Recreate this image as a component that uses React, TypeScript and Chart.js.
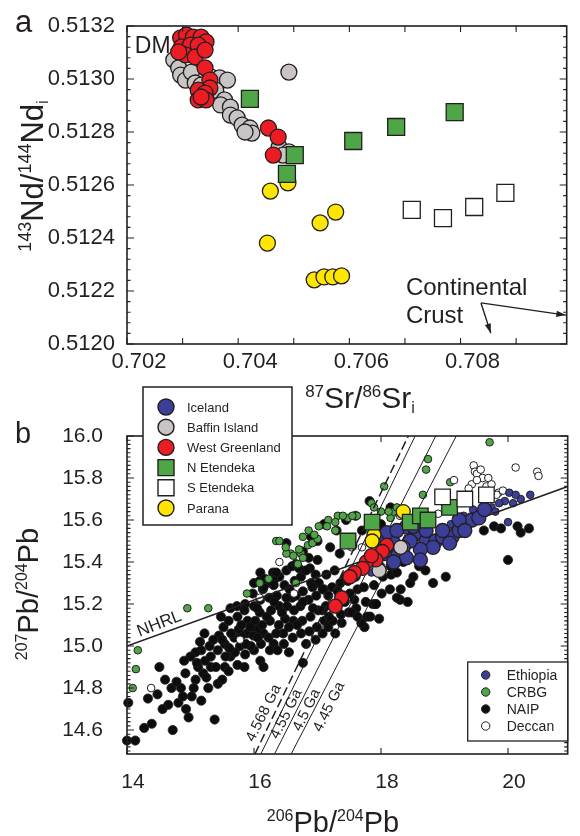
import React, { useEffect, useRef } from 'react';
import { Chart, registerables } from 'chart.js';
Chart.register(...registerables);

const FONT = '"Liberation Sans", Arial, Helvetica, sans-serif';
const INK = '#231f20';
const C_RED = '#ec1c24';
const C_GREY = '#c9c5c5';
const C_GREEN = '#4ea646';
const C_YELLOW = '#ffe600';
const C_BLUE = '#3c3f9a';
const C_BLACK = '#0d0d0d';
const C_WHITE = '#ffffff';

Chart.defaults.font.family = FONT;

// ---------- Panel a : 87Sr/86Sr vs 143Nd/144Nd ----------
const srTickLabels = [0.702, 0.704, 0.706, 0.708];
const ndTickLabels = [0.512, 0.5122, 0.5124, 0.5126, 0.5128, 0.513, 0.5132];

const baffinSrNd = [
  [0.702842, 0.513072], [0.70293, 0.513042], [0.702965, 0.513015], [0.703053, 0.512996],
  [0.703158, 0.513026], [0.703228, 0.512985], [0.703333, 0.512977], [0.703509, 0.513008],
  [0.703667, 0.513004], [0.703807, 0.512996], [0.703596, 0.512958], [0.703754, 0.512921],
  [0.703684, 0.512902], [0.70386, 0.512894], [0.70386, 0.512864], [0.703982, 0.512853],
  [0.70407, 0.512826], [0.704211, 0.512815], [0.704246, 0.512796], [0.704123, 0.5128],
  [0.704912, 0.513026], [0.704737, 0.512743], [0.704912, 0.512725], [0.704807, 0.512713],
];
const westGreenlandSrNd = [
  [0.702965, 0.513155], [0.70307, 0.513166], [0.703193, 0.513158], [0.703333, 0.513158],
  [0.703421, 0.51314], [0.702982, 0.513121], [0.70314, 0.513128], [0.703281, 0.513128],
  [0.703053, 0.513091], [0.703228, 0.513083], [0.703404, 0.513109], [0.70293, 0.513102],
  [0.703404, 0.513042], [0.703491, 0.512996], [0.703491, 0.512966], [0.703281, 0.512958],
  [0.703404, 0.512947], [0.703281, 0.512921], [0.703421, 0.512921], [0.703333, 0.512932],
  [0.704544, 0.512815], [0.704719, 0.512781], [0.704632, 0.512713],
];
const paranaSrNd = [
  [0.704579, 0.512577], [0.704895, 0.512608], [0.704526, 0.512381], [0.705474, 0.512457],
  [0.705754, 0.512498], [0.705368, 0.512242], [0.705544, 0.512253], [0.705702, 0.512253],
  [0.70586, 0.512257],
];
const nEtendekaSrNd = [
  [0.704211, 0.512925], [0.705018, 0.512713], [0.704877, 0.512642], [0.70607, 0.512766],
  [0.706842, 0.512819], [0.707895, 0.512875],
];
const sEtendekaSrNd = [
  [0.707123, 0.512506], [0.707684, 0.512475], [0.708246, 0.512517], [0.708807, 0.51257],
];
// annotation anchors (data units)
const dmLabelAt = [0.70214, 0.513098];
const crustLabelAt = [0.707018, 0.512185, 0.512079];
const crustArrowFrom = [0.708368, 0.512155];
const crustArrowTo1 = [0.708544, 0.512041];
const crustArrowTo2 = [0.709895, 0.512109];

// ---------- Panel b : 206Pb/204Pb vs 207Pb/204Pb ----------
const pb6TickLabels = [14, 16, 18, 20];
const pb7TickLabels = [14.6, 14.8, 15.0, 15.2, 15.4, 15.6, 15.8, 16.0];

const nhrlLine = [[14.0, 15.0], [20.94, 15.76]];
const geochron4568 = [[16.015, 14.486], [18.43, 16.0]];
const geochron455 = [[16.108, 14.486], [18.538, 16.0]];
const geochron45 = [[16.323, 14.486], [18.862, 16.0]];
const geochron445 = [[16.585, 14.486], [19.185, 16.0]];
const nhrlLabelAt = [14.51, 15.105];
const gaLabels = ['4.568 Ga', '4.55 Ga', '4.5 Ga', '4.45 Ga'];
const gaLabelAt = [[16.154, 14.681], [16.508, 14.676], [16.831, 14.695], [17.185, 14.71]];

const naipPb = [
  [14.0, 14.55], [14.13, 14.55], [14.02, 14.73], [14.27, 14.61], [14.39, 14.63], [14.33, 14.75],
  [14.48, 14.77], [14.51, 14.9], [14.6, 14.84], [14.7, 14.8], [14.72, 14.6], [14.81, 14.73],
  [14.93, 14.7], [14.97, 14.66], [15.02, 14.76], [15.17, 14.74], [15.38, 14.65], [14.85, 14.8],
  [14.92, 14.87], [14.78, 14.83], [15.08, 14.84], [15.12, 14.9], [15.23, 14.93], [15.17, 14.98],
  [15.32, 14.95], [15.3, 15.0], [15.43, 14.98], [15.43, 14.82], [15.54, 14.9], [15.63, 14.95],
  [15.74, 15.14], [15.69, 15.04], [15.78, 15.0], [15.85, 14.9], [15.89, 15.06], [16.0, 15.19],
  [16.0, 14.98], [16.15, 15.06], [16.09, 15.16], [16.25, 15.12], [16.31, 15.01], [16.4, 15.19],
  [16.46, 15.06], [16.55, 14.97], [16.62, 15.12], [15.08, 14.97], [15.15, 15.02], [15.2, 14.87],
  [15.32, 14.9], [15.54, 15.01], [15.45, 15.05], [15.6, 14.88], [15.7, 14.97], [15.8, 15.05],
  [15.86, 14.96], [15.95, 15.0], [16.05, 15.08], [16.1, 14.93], [16.15, 14.9], [16.25, 14.98],
  [16.35, 15.06], [16.47, 15.01], [16.55, 15.09], [16.77, 14.92], [16.82, 15.01], [16.97, 15.03],
  [17.08, 15.06], [17.17, 15.09], [17.28, 15.06], [17.38, 15.11], [15.0, 14.95], [14.9, 14.93],
  [15.25, 14.85], [15.05, 14.8], [14.65, 14.72], [15.4, 14.9], [15.5, 14.84], [15.55, 14.95],
  [14.88, 14.76], [15.1, 14.92], [15.28, 14.8], [15.36, 15.03], [15.22, 15.06], [14.56, 14.7],
  // dense core of the array
  [15.5, 15.03], [15.52, 15.09], [15.48, 15.14], [15.61, 14.99], [15.64, 15.06], [15.6, 15.12],
  [15.63, 15.18], [15.74, 14.91], [15.76, 15.08], [15.73, 15.19], [15.87, 15.01], [15.9, 15.12],
  [15.86, 15.2], [15.99, 15.05], [16.02, 15.12], [15.98, 15.25], [16.11, 15.01], [16.13, 15.1],
  [16.1, 15.22], [16.14, 15.27], [16.23, 15.04], [16.27, 15.17], [16.24, 15.23], [16.26, 15.3],
  [16.37, 14.98], [16.39, 15.1], [16.36, 15.24], [16.4, 15.33], [16.49, 15.13], [16.52, 15.19],
  [16.48, 15.29], [16.51, 15.36], [16.61, 15.04], [16.63, 15.17], [16.6, 15.23], [16.64, 15.31],
  [16.6, 15.38], [16.74, 15.06], [16.76, 15.12], [16.73, 15.19], [16.77, 15.26], [16.74, 15.33],
  [16.87, 15.07], [16.89, 15.14], [16.86, 15.22], [16.9, 15.3], [16.88, 15.37], [16.99, 15.09],
  [17.01, 15.17], [16.98, 15.24], [17.02, 15.3], [17.0, 15.41], [17.11, 15.12], [17.13, 15.19],
  [17.1, 15.27], [17.14, 15.34], [17.24, 15.12], [17.26, 15.2], [17.23, 15.28], [17.27, 15.36],
  [17.37, 15.15], [17.39, 15.22], [17.36, 15.3], [17.49, 15.16], [17.51, 15.25], [17.48, 15.31],
  [17.61, 15.18], [17.63, 15.27], [17.6, 15.33], [17.74, 15.09], [17.76, 15.21], [17.73, 15.28],
  [17.87, 15.2], [17.89, 15.29], [17.92, 15.2], [17.97, 15.13], [18.01, 15.25], [18.03, 15.33],
  [18.14, 15.27], [18.16, 15.34], [17.69, 15.11], [17.54, 15.16], [17.78, 15.14],
  [16.0, 15.3], [16.1, 15.35], [16.3, 15.35], [16.15, 15.28], [16.51, 15.23], [16.77, 15.21],
  [16.05, 15.18], [15.85, 15.17], [16.77, 15.45], [16.86, 15.42], [16.71, 15.37], [16.97, 15.34],
  [16.66, 15.39], [16.82, 15.36], [16.92, 15.28], [17.08, 15.27], [17.17, 15.24], [16.66, 15.24],
  [17.08, 15.17], [17.28, 15.18], [17.43, 15.21], [17.58, 15.22], [17.63, 15.14], [17.83, 15.14],
  [16.51, 15.49], [16.35, 15.35], [16.31, 15.31], [16.09, 15.31], [16.17, 15.32], [16.31, 15.29],
  [15.94, 15.09], [16.2, 15.14], [16.44, 15.16], [16.68, 15.1], [16.93, 15.18], [17.18, 15.14],
  [17.32, 15.26], [17.44, 15.33], [16.56, 15.27], [16.32, 15.21], [16.06, 15.04], [15.8, 15.1],
  // right of the core, below the Iceland field
  [18.31, 15.27], [18.46, 15.3], [18.51, 15.33], [18.35, 15.4], [18.2, 15.42], [18.82, 15.3],
  [19.02, 15.33], [18.3, 15.22], [18.42, 15.21], [18.6, 15.38], [18.7, 15.36], [18.25, 15.35],
  [18.15, 15.38], [18.25, 15.23], [17.92, 15.2],
  [20.0, 15.41], [19.78, 15.57], [19.89, 15.56], [20.15, 15.57], [20.2, 15.54], [20.33, 15.56],
  [19.62, 15.55],
  // upper edge, among CRBG
  [17.82, 15.69], [18.15, 15.66], [17.6, 15.62], [17.3, 15.55], [17.0, 15.5], [17.2, 15.47],
  [16.9, 15.52], [17.1, 15.58], [17.45, 15.6], [17.7, 15.55], [18.0, 15.58], [17.55, 15.48],
  [17.35, 15.44],
];
const crbgPb = [
  [14.17, 14.98], [14.14, 14.89], [14.09, 14.8], [14.95, 15.18], [15.28, 15.18], [16.35, 15.5],
  [16.58, 15.44], [16.74, 15.44], [16.69, 15.39], [16.85, 15.48], [16.92, 15.49], [16.09, 15.3],
  [16.23, 15.32], [16.66, 15.3], [15.89, 15.25], [19.71, 15.97], [18.74, 15.89], [18.71, 15.84],
  [19.09, 15.78], [18.05, 15.76], [18.66, 15.72], [17.32, 15.62], [17.48, 15.61], [17.62, 15.62],
  [17.85, 15.68], [17.89, 15.66], [18.0, 15.64], [18.15, 15.61], [18.2, 15.64], [17.17, 15.6],
  [17.15, 15.57], [17.28, 15.55], [17.02, 15.57], [17.0, 15.51], [16.86, 15.55], [16.71, 15.46],
  [16.77, 15.42], [17.28, 15.59], [16.4, 15.5], [16.51, 15.44], [16.62, 15.43], [16.77, 15.52],
  [17.4, 15.62], [17.55, 15.62], [18.25, 15.66], [18.12, 15.64], [16.5, 15.47], [16.95, 15.53],
];
const deccanPb = [
  [19.46, 15.86], [19.48, 15.83], [19.51, 15.82], [19.6, 15.8], [19.69, 15.8], [19.15, 15.79],
  [19.43, 15.77], [19.66, 15.76], [20.12, 15.85], [20.46, 15.83], [20.48, 15.81], [19.54, 15.6],
  [19.85, 15.73], [19.51, 15.79], [19.74, 15.77], [19.82, 15.72], [16.63, 15.25], [16.09, 15.23],
  [15.78, 15.03], [14.38, 14.8], [17.54, 15.47], [17.7, 15.47], [18.05, 15.5], [16.4, 15.4],
  [18.3, 15.62], [18.9, 15.63], [19.0, 15.68], [19.57, 15.84], [19.38, 15.75], [19.92, 15.74],
];
const ethiopiaPb = [
  [20.02, 15.73], [20.2, 15.7], [19.95, 15.69], [19.86, 15.68], [19.74, 15.66], [19.63, 15.65],
  [20.0, 15.59], [20.08, 15.68], [19.45, 15.65], [20.35, 15.72], [19.3, 15.62], [18.0, 15.38],
  [17.85, 15.35], [18.6, 15.47], [19.1, 15.58], [20.12, 15.72], [19.8, 15.64],
];
const icelandPb = [
  [18.4, 15.567], [18.55, 15.54], [18.71, 15.5], [18.86, 15.5], [18.97, 15.52], [19.12, 15.52],
  [19.23, 15.55], [19.32, 15.57], [19.43, 15.6], [19.54, 15.61], [19.63, 15.65], [19.08, 15.49],
  [18.82, 15.47], [18.62, 15.46], [18.46, 15.5], [18.35, 15.47], [18.25, 15.44], [18.4, 15.42],
  [18.62, 15.41], [18.2, 15.49], [18.09, 15.47], [18.09, 15.54], [19.23, 15.6], [19.32, 15.55],
  [18.97, 15.55], [18.71, 15.55], [18.51, 15.57], [18.25, 15.55], [18.05, 15.44], [18.2, 15.4],
  [17.94, 15.5],
];
const baffinPb = [[18.31, 15.47], [17.97, 15.36]];
const westGreenlandPb = [
  [18.09, 15.48], [18.02, 15.45], [17.92, 15.41], [17.77, 15.4], [17.71, 15.37], [17.58, 15.35],
  [17.51, 15.33], [17.38, 15.23], [17.28, 15.19], [17.85, 15.43],
];
const paranaPb = [[18.35, 15.64], [17.89, 15.53], [17.86, 15.5]];
const nEtendekaPb = [
  [17.48, 15.5], [17.86, 15.59], [18.46, 15.59], [18.62, 15.62], [18.74, 15.6], [19.08, 15.66],
];
const sEtendekaPb = [[18.97, 15.71], [19.32, 15.7], [19.66, 15.72]];

const legendMain = [
  { label: 'Iceland', color: C_BLUE, shape: 'circle' },
  { label: 'Baffin Island', color: C_GREY, shape: 'circle' },
  { label: 'West Greenland', color: C_RED, shape: 'circle' },
  { label: 'N Etendeka', color: C_GREEN, shape: 'rect' },
  { label: 'S Etendeka', color: C_WHITE, shape: 'rect' },
  { label: 'Parana', color: C_YELLOW, shape: 'circle' },
];
const legendSmall = [
  { label: 'Ethiopia', color: C_BLUE },
  { label: 'CRBG', color: C_GREEN },
  { label: 'NAIP', color: C_BLACK },
  { label: 'Deccan', color: C_WHITE },
];

// ---------- helpers ----------
type Part = { t: string; s: number; dy?: number };
function drawRich(ctx: any, parts: Part[], x: number, y: number, rot = 0) {
  ctx.save();
  ctx.translate(x, y);
  ctx.rotate(rot);
  ctx.textAlign = 'left';
  ctx.textBaseline = 'alphabetic';
  ctx.fillStyle = INK;
  let total = 0;
  const widths = parts.map((p) => {
    ctx.font = `${p.s}px ${FONT}`;
    const w = ctx.measureText(p.t).width;
    total += w;
    return w;
  });
  let cx = -total / 2;
  parts.forEach((p, i) => {
    ctx.font = `${p.s}px ${FONT}`;
    ctx.fillText(p.t, cx, p.dy || 0);
    cx += widths[i];
  });
  ctx.restore();
}

function arrow(ctx: any, x0: number, y0: number, x1: number, y1: number) {
  const head = 10;
  ctx.beginPath();
  ctx.moveTo(x0, y0);
  ctx.lineTo(x1, y1);
  ctx.stroke();
  const a = Math.atan2(y1 - y0, x1 - x0);
  ctx.beginPath();
  ctx.moveTo(x1, y1);
  ctx.lineTo(x1 - head * Math.cos(a - 0.32), y1 - head * Math.sin(a - 0.32));
  ctx.lineTo(x1 - head * Math.cos(a + 0.32), y1 - head * Math.sin(a + 0.32));
  ctx.closePath();
  ctx.fill();
}

const pts = (arr: number[][]) => arr.map(([x, y]) => ({ x, y }));

function markers(label: string, arr: number[][], shape: string, color: string, radius: number, bw = 1.3) {
  return {
    label,
    data: pts(arr),
    showLine: false,
    pointStyle: shape,
    pointRadius: radius,
    pointBackgroundColor: color,
    pointBorderColor: INK,
    pointBorderWidth: bw,
    clip: false,
  };
}
function line(label: string, arr: number[][], width: number, dash: number[] = []) {
  return {
    label,
    data: pts(arr),
    showLine: true,
    pointRadius: 0,
    borderColor: INK,
    borderWidth: width,
    borderDash: dash,
    fill: false,
  };
}

function xAxis(min: number, max: number, labels: number[], digits: number, size: number, pad: number, offset: number, height: number) {
  return {
    type: 'linear',
    position: 'bottom',
    min,
    max,
    afterBuildTicks: (ax: any) => {
      ax.ticks = labels.map((v) => ({ value: v }));
    },
    afterFit: (s: any) => {
      s.height = height;
    },
    grid: { display: false, drawTicks: false },
    border: { display: false },
    ticks: {
      autoSkip: false,
      maxRotation: 0,
      minRotation: 0,
      padding: pad,
      labelOffset: offset,
      color: INK,
      font: { family: FONT, size },
      callback: (v: any) => Number(v).toFixed(digits),
    },
  };
}
function yAxis(min: number, max: number, labels: number[], digits: number, size: number, pad: number, width: number) {
  return {
    type: 'linear',
    position: 'left',
    min,
    max,
    afterBuildTicks: (ax: any) => {
      ax.ticks = labels.map((v) => ({ value: v }));
    },
    afterFit: (s: any) => {
      s.width = width;
    },
    grid: { display: false, drawTicks: false },
    border: { display: false },
    ticks: {
      autoSkip: false,
      padding: pad,
      color: INK,
      font: { family: FONT, size },
      callback: (v: any) => Number(v).toFixed(digits),
    },
  };
}

function frameTicks(ctx: any, ca: any, xs: { px: number; len: number }[], ys: { py: number; len: number }[]) {
  ctx.save();
  ctx.strokeStyle = INK;
  ctx.lineWidth = 1.1;
  ctx.beginPath();
  xs.forEach(({ px, len }) => {
    ctx.moveTo(px, ca.bottom);
    ctx.lineTo(px, ca.bottom - len);
    ctx.moveTo(px, ca.top);
    ctx.lineTo(px, ca.top + len);
  });
  ys.forEach(({ py, len }) => {
    ctx.moveTo(ca.left, py);
    ctx.lineTo(ca.left + len, py);
    ctx.moveTo(ca.right, py);
    ctx.lineTo(ca.right - len, py);
  });
  ctx.stroke();
  ctx.lineWidth = 1.6;
  ctx.strokeRect(ca.left, ca.top, ca.right - ca.left, ca.bottom - ca.top);
  ctx.restore();
}

const decorA = {
  id: 'decorA',
  afterDraw(chart: any) {
    const { ctx, chartArea: ca } = chart;
    const x = chart.scales.x;
    const y = chart.scales.y;
    const xs: any[] = [];
    for (let i = 0; i <= 7; i++) xs.push({ px: x.getPixelForValue(0.702 + i * 0.001), len: 6 });
    const ys: any[] = [];
    for (let i = 0; i <= 30; i++) ys.push({ py: y.getPixelForValue(0.512 + i * 0.00004), len: i % 5 === 0 ? 7 : 3.5 });
    frameTicks(ctx, ca, xs, ys);

    ctx.save();
    ctx.fillStyle = INK;
    ctx.strokeStyle = INK;
    ctx.textAlign = 'left';
    ctx.textBaseline = 'alphabetic';
    ctx.font = `23px ${FONT}`;
    ctx.fillText('DM', x.getPixelForValue(dmLabelAt[0]), y.getPixelForValue(dmLabelAt[1]));
    ctx.font = `24px ${FONT}`;
    ctx.fillText('Continental', x.getPixelForValue(crustLabelAt[0]), y.getPixelForValue(crustLabelAt[1]));
    ctx.fillText('Crust', x.getPixelForValue(crustLabelAt[0]), y.getPixelForValue(crustLabelAt[2]));
    ctx.lineWidth = 1.4;
    const fx = x.getPixelForValue(crustArrowFrom[0]);
    const fy = y.getPixelForValue(crustArrowFrom[1]);
    arrow(ctx, fx, fy, x.getPixelForValue(crustArrowTo1[0]), y.getPixelForValue(crustArrowTo1[1]));
    arrow(ctx, fx, fy, x.getPixelForValue(crustArrowTo2[0]), y.getPixelForValue(crustArrowTo2[1]));
    ctx.font = `31px ${FONT}`;
    ctx.fillText('a', ca.left - 112, ca.top + 6);
    ctx.restore();

    drawRich(ctx, [
      { t: '87', s: 17, dy: -11 }, { t: 'Sr/', s: 30 }, { t: '86', s: 17, dy: -11 }, { t: 'Sr', s: 30 }, { t: 'i', s: 16, dy: 5 },
    ], ca.left + 233, ca.bottom + 64);
    drawRich(ctx, [
      { t: '143', s: 18, dy: -12 }, { t: 'Nd/', s: 31 }, { t: '144', s: 18, dy: -12 }, { t: 'Nd', s: 31 }, { t: 'i', s: 17, dy: 5 },
    ], ca.left - 84, ca.top + 150, -Math.PI / 2);
  },
};

const decorB = {
  id: 'decorB',
  afterDraw(chart: any) {
    const { ctx, chartArea: ca } = chart;
    const x = chart.scales.x;
    const y = chart.scales.y;
    const xs: any[] = [];
    for (let i = 0; i <= 3; i++) xs.push({ px: x.getPixelForValue(14 + i * 2), len: 6 });
    const ys: any[] = [];
    for (let i = 0; i <= 75; i++) {
      const v = 14.5 + i * 0.02;
      if (v < y.min) continue;
      const k = Math.round(v * 100);
      ys.push({ py: y.getPixelForValue(v), len: k % 20 === 0 ? 7 : 3.5 });
    }
    frameTicks(ctx, ca, xs, ys);

    ctx.save();
    ctx.fillStyle = INK;
    ctx.textAlign = 'center';
    ctx.textBaseline = 'middle';
    ctx.save();
    ctx.translate(x.getPixelForValue(nhrlLabelAt[0]), y.getPixelForValue(nhrlLabelAt[1]));
    ctx.rotate(-0.37);
    ctx.font = `17px ${FONT}`;
    ctx.fillText('NHRL', 0, 0);
    ctx.restore();
    gaLabels.forEach((t, i) => {
      ctx.save();
      ctx.translate(x.getPixelForValue(gaLabelAt[i][0]), y.getPixelForValue(gaLabelAt[i][1]));
      ctx.rotate(-1.11);
      ctx.font = `15px ${FONT}`;
      ctx.fillText(t, 0, 0);
      ctx.restore();
    });
    ctx.restore();

    // main legend
    ctx.save();
    const L = ca.left + 16;
    const T = ca.top - 49;
    ctx.fillStyle = '#ffffff';
    ctx.fillRect(L, T, 149, 138);
    ctx.strokeStyle = INK;
    ctx.lineWidth = 1.5;
    ctx.strokeRect(L, T, 149, 138);
    legendMain.forEach((e, i) => {
      const cy = T + 20 + i * 20.2;
      const cx = L + 23;
      ctx.fillStyle = e.color;
      ctx.strokeStyle = INK;
      ctx.lineWidth = 1.4;
      ctx.beginPath();
      if (e.shape === 'rect') ctx.rect(cx - 8, cy - 8, 16, 16);
      else ctx.arc(cx, cy, 8, 0, Math.PI * 2);
      ctx.fill();
      ctx.stroke();
      ctx.fillStyle = INK;
      ctx.font = `13px ${FONT}`;
      ctx.textAlign = 'left';
      ctx.textBaseline = 'middle';
      ctx.fillText(e.label, L + 44, cy + 1);
    });
    // small legend
    const L2 = ca.right - 100;
    const T2 = ca.bottom - 92;
    ctx.fillStyle = '#ffffff';
    ctx.fillRect(L2, T2, 100, 79);
    ctx.strokeStyle = INK;
    ctx.lineWidth = 1.3;
    ctx.strokeRect(L2, T2, 100, 79);
    legendSmall.forEach((e, i) => {
      const cy = T2 + 13 + i * 17;
      ctx.fillStyle = e.color;
      ctx.lineWidth = 1;
      ctx.beginPath();
      ctx.arc(L2 + 18, cy, 4.2, 0, Math.PI * 2);
      ctx.fill();
      ctx.stroke();
      ctx.fillStyle = INK;
      ctx.font = `14px ${FONT}`;
      ctx.textAlign = 'left';
      ctx.textBaseline = 'middle';
      ctx.fillText(e.label, L2 + 39, cy + 1);
    });
    ctx.font = `29px ${FONT}`;
    ctx.textAlign = 'left';
    ctx.textBaseline = 'alphabetic';
    ctx.fillStyle = INK;
    ctx.fillText('b', ca.left - 112, ca.top + 7);
    ctx.restore();

    drawRich(ctx, [
      { t: '206', s: 16, dy: -11 }, { t: 'Pb/', s: 29 }, { t: '204', s: 16, dy: -11 }, { t: 'Pb', s: 29 },
    ], ca.left + 206, ca.bottom + 78);
    drawRich(ctx, [
      { t: '207', s: 16, dy: -11 }, { t: 'Pb/', s: 29 }, { t: '204', s: 16, dy: -11 }, { t: 'Pb', s: 29 },
    ], ca.left - 89, ca.top + 158, -Math.PI / 2);
  },
};

export default function App() {
  const refA = useRef<HTMLCanvasElement>(null);
  const refB = useRef<HTMLCanvasElement>(null);

  useEffect(() => {
    const chartA = new Chart(refA.current as HTMLCanvasElement, {
      type: 'scatter',
      data: {
        datasets: [
          markers('S Etendeka', sEtendekaSrNd, 'rect', C_WHITE, 12),
          markers('N Etendeka', nEtendekaSrNd, 'rect', C_GREEN, 12),
          markers('Parana', paranaSrNd, 'circle', C_YELLOW, 8),
          markers('West Greenland', westGreenlandSrNd, 'circle', C_RED, 8),
          markers('Baffin Island', baffinSrNd, 'circle', C_GREY, 8),
        ] as any,
      },
      options: {
        responsive: false,
        animation: false,
        events: [],
        layout: { padding: { left: 0, top: 26, right: 2, bottom: 0 } },
        plugins: { legend: { display: false }, tooltip: { enabled: false }, title: { display: false } },
        scales: {
          x: xAxis(0.702, 0.70991, srTickLabels, 3, 22, 5, 12, 76),
          y: yAxis(0.512, 0.5132, ndTickLabels, 4, 22, 12, 127),
        } as any,
      },
      plugins: [decorA],
    });

    const chartB = new Chart(refB.current as HTMLCanvasElement, {
      type: 'scatter',
      data: {
        datasets: [
          markers('S Etendeka', sEtendekaPb, 'rect', C_WHITE, 11),
          markers('N Etendeka', nEtendekaPb, 'rect', C_GREEN, 11),
          markers('Parana', paranaPb, 'circle', C_YELLOW, 7),
          markers('West Greenland', westGreenlandPb, 'circle', C_RED, 7),
          markers('Baffin Island', baffinPb, 'circle', C_GREY, 7),
          markers('Iceland', icelandPb, 'circle', C_BLUE, 7),
          line('NHRL', nhrlLine, 1.6),
          line('4.568 Ga', geochron4568, 1.5, [9, 4]),
          line('4.55 Ga', geochron455, 1),
          line('4.5 Ga', geochron45, 1),
          line('4.45 Ga', geochron445, 1),
          markers('Ethiopia', ethiopiaPb, 'circle', C_BLUE, 3.8, 1),
          markers('Deccan', deccanPb, 'circle', C_WHITE, 3.8, 1),
          markers('CRBG', crbgPb, 'circle', C_GREEN, 3.8, 1),
          markers('NAIP', naipPb, 'circle', C_BLACK, 4.6, 0.8),
        ] as any,
      },
      options: {
        responsive: false,
        animation: false,
        events: [],
        layout: { padding: { left: 0, top: 61, right: 2, bottom: 0 } },
        plugins: { legend: { display: false }, tooltip: { enabled: false }, title: { display: false } },
        scales: {
          x: xAxis(14, 20.94, pb6TickLabels, 0, 21, 16, 6, 82),
          y: yAxis(14.486, 16.0, pb7TickLabels, 1, 21, 24, 127),
        } as any,
      },
      plugins: [decorB],
    });

    return () => {
      chartA.destroy();
      chartB.destroy();
    };
  }, []);

  return (
    <div style={{ position: 'absolute', left: 0, top: 0, width: 580, height: 836, background: '#ffffff' }}>
      <canvas ref={refA} width={580} height={420} style={{ position: 'absolute', left: 0, top: 0, width: 580, height: 420 }} />
      <canvas ref={refB} width={580} height={461} style={{ position: 'absolute', left: 0, top: 375, width: 580, height: 461 }} />
    </div>
  );
}
